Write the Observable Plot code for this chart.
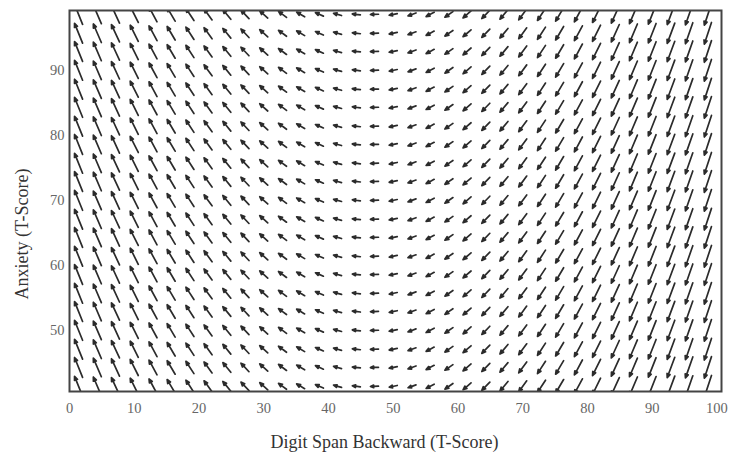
<!DOCTYPE html>
<html><head><meta charset="utf-8">
<script src="https://cdn.jsdelivr.net/npm/d3@7"></script>
<script src="https://cdn.jsdelivr.net/npm/@observablehq/plot@0.6"></script>
<style>body{margin:0;background:#fff}</style>
</head><body><div id="chart"></div>
<script>
// Grid columns (Digit Span Backward T-score) and rows (Anxiety T-score)
const xCols = [1.4, 4.3, 7.1, 10.0, 12.9, 15.7, 18.6, 21.4, 24.3, 27.1, 30.0, 32.9, 35.7, 38.6, 41.4, 44.3, 47.1, 50.0, 52.9, 55.7, 58.6, 61.4, 64.3, 67.1, 70.0, 72.9, 75.7, 78.6, 81.4, 84.3, 87.1, 90.0, 92.9, 95.7, 98.6];
const yRows = [41.4, 44.3, 47.1, 50.0, 52.9, 55.7, 58.6, 61.4, 64.3, 67.1, 70.0, 72.9, 75.7, 78.6, 81.4, 84.3, 87.1, 90.0, 92.9, 95.7, 98.6];
// Arrow direction per column: degrees above the leftward horizontal (+ = up-left, - = down-left)
const colAngle = [68, 66.7, 65.2, 63.5, 61.6, 59.4, 56.9, 54, 50.7, 46.8, 42.2, 36.9, 30.7, 23.6, 15.6, 7, -2, -11.5, -20.2, -28.1, -35, -40.9, -45.9, -50.1, -53.7, -56.8, -59.4, -61.7, -63.7, -65.5, -67, -68.4, -69.6, -70.7, -71.7];
// Arrow magnitude per column
const colLength = [21.4, 20.2, 19.1, 18, 16.8, 15.7, 14.7, 13.6, 12.6, 11.7, 10.8, 10, 9.3, 8.7, 8.3, 8.1, 8, 8.2, 8.5, 9.1, 9.8, 10.6, 11.5, 12.5, 13.5, 14.6, 15.7, 16.9, 18.1, 19.2, 20.2, 21, 21.7, 22.3, 22.8];
const xTicks = [0, 10, 20, 30, 40, 50, 60, 70, 80, 90, 100];
const yTicks = [50, 60, 70, 80, 90];
const xLabel = "Digit Span Backward (T-Score)";
const yLabel = "Anxiety (T-Score)";

const field = [];
yRows.forEach(y => xCols.forEach((x, i) => field.push({x, y, rotate: 270 + colAngle[i], len: colLength[i]})));

const arrowShape = {
  draw(context, l) {
    const h = Math.min(3.8, l * 0.4), w = h * 0.42;
    context.moveTo(0, 0);
    context.lineTo(0, -l + h);
    context.moveTo(0, -l);
    context.lineTo(-w, -l + h);
    context.lineTo(w, -l + h);
    context.closePath();
  }
};

const chart = Plot.plot({
  width: 732,
  height: 462,
  marginLeft: 69,
  marginRight: 11,
  marginTop: 10,
  marginBottom: 71,
  style: {fontFamily: "Liberation Serif", fontSize: "14px", background: "#fff"},
  x: {domain: [0, 100.7]},
  y: {domain: [40.6, 99.2]},
  length: {type: "linear", domain: [0, 25], range: [0, 25]},
  marks: [
    Plot.vector(field, {
      x: "x", y: "y", rotate: "rotate", length: "len",
      anchor: "middle", shape: arrowShape,
      stroke: "#2b2b2b", fill: "#2b2b2b", strokeWidth: 1.7, clip: true
    }),
    Plot.frame({stroke: "#444", strokeWidth: 2}),
    Plot.axisX(xTicks, {tickSize: 0, tickPadding: 11, fontSize: 14.5, color: "#666", label: null}),
    Plot.axisY(yTicks, {tickSize: 0, tickPadding: 5, fontSize: 14.5, color: "#666", label: null}),
    Plot.text([xLabel], {frameAnchor: "bottom", textAnchor: "middle", dx: -11, dy: 56, fontSize: 18, fill: "#333"}),
    Plot.text([yLabel], {frameAnchor: "left", textAnchor: "middle", rotate: -90, dx: -47, dy: 33, fontSize: 18, fill: "#333"})
  ]
});
document.getElementById("chart").appendChild(chart);
</script>
</body></html>
